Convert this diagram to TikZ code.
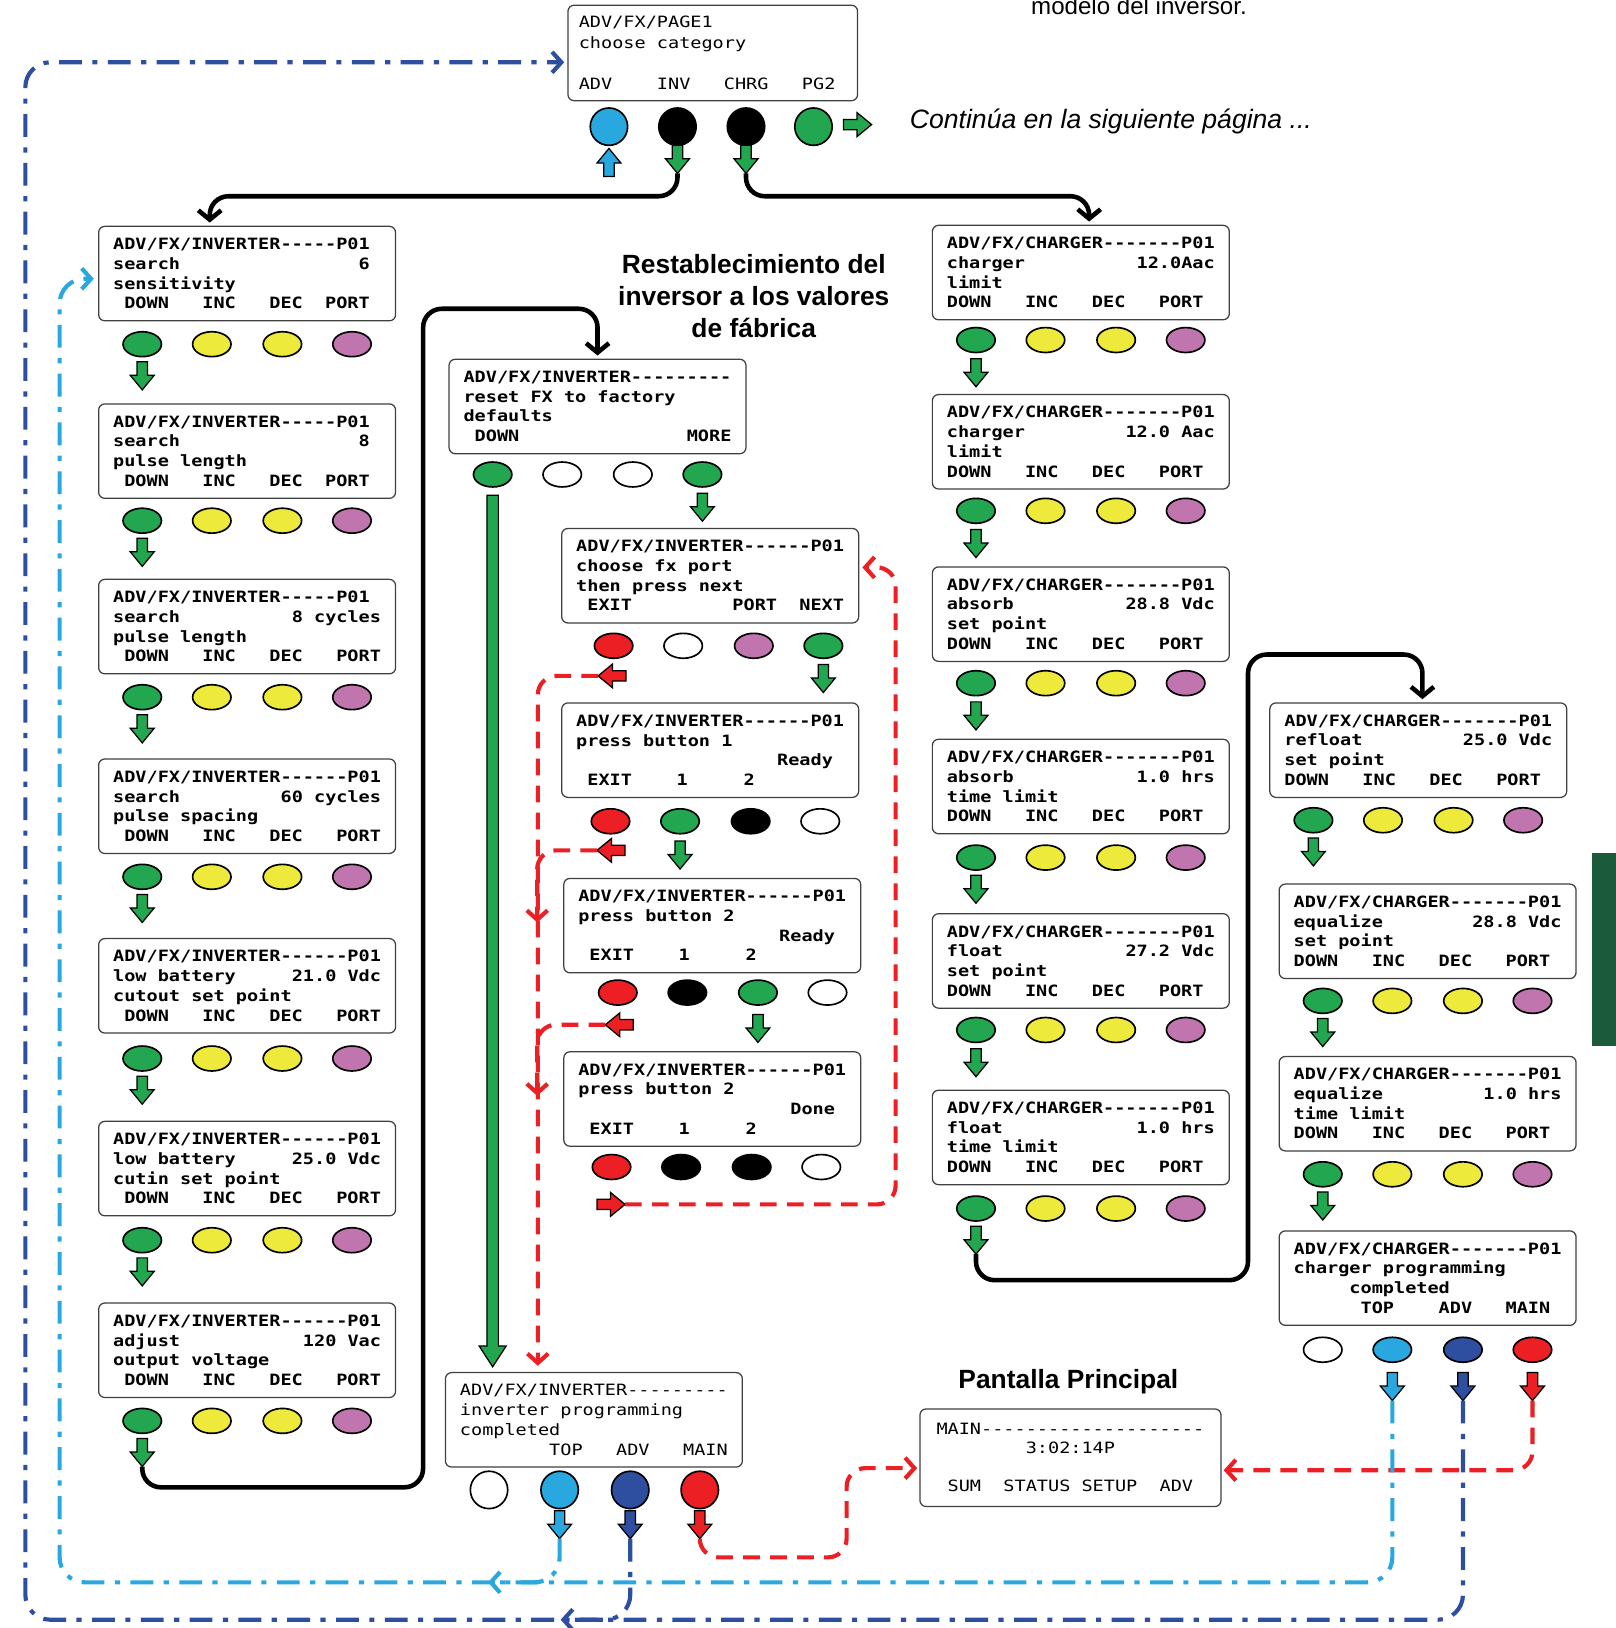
\documentclass[tikz,border=0pt]{standalone}
\usepackage{fontspec}
\setmainfont{Liberation Sans}
\newfontfamily\lcd[FakeStretch=1.19]{DejaVu Sans Mono}
\usetikzlibrary{shapes.geometric,arrows.meta,calc}
\definecolor{grn}{RGB}{35,166,80}
\definecolor{yel}{RGB}{238,234,60}
\definecolor{pnk}{RGB}{193,117,174}
\definecolor{lblue}{RGB}{41,168,224}
\definecolor{dblue}{RGB}{46,78,160}
\definecolor{rd}{RGB}{236,32,36}
\definecolor{sidegreen}{RGB}{28,90,60}
\newcommand\dashes[1]{\foreach\n in {1,...,#1}{-}}
\newcommand\fixsp{\spaceskip=5.373pt\relax\xspaceskip=5.373pt\relax}
\newcommand\keyrow[6]{%
  \node[btn=#3] (#1-1) at ($(#1)+(#2)+(-101,0)$) {};
  \node[btn=#4] (#1-2) at ($(#1)+(#2)+(-34,0)$) {};
  \node[btn=#5] (#1-3) at ($(#1)+(#2)+(34,0)$) {};
  \node[btn=#6] (#1-4) at ($(#1)+(#2)+(101,0)$) {};}
\tikzset{
  screen/.style={draw=black!75, line width=0.6pt, rounded corners=3pt, fill=white,
    minimum width=143pt, minimum height=45.5pt, text width=129pt, align=left,
    inner xsep=7pt, inner ysep=0pt, font=\lcd\bfseries\fontsize{7.5}{9.5}\selectfont,
    execute at begin node=\fixsp},
  thinscreen/.style={screen, font=\lcd\fontsize{7.5}{9.5}\selectfont},
  btn/.style={ellipse, draw, line width=0.8pt, fill=#1, minimum width=18.5pt,
    minimum height=12pt, inner sep=0pt},
  rbtn/.style={circle, draw, line width=0.8pt, fill=#1, minimum size=18pt, inner sep=0pt},
  fat/.pic={\path[pic actions] (-5,0) -- (5,0) -- (5,13) -- (11.5,13) -- (0,27)
    -- (-11.5,13) -- (-5,13) -- cycle; \coordinate (-tip) at (0,27);},
  fatarr/.style={draw=black, line width=0.6pt, fill=#1},
  flow/.style={line width=2.2pt, rounded corners=9pt, -{Straight Barb[length=4.5pt,width=11pt]}},
  redflow/.style={draw=rd, line width=2pt, dash pattern=on 8pt off 5pt, rounded corners=9pt,
    -{Straight Barb[length=4.5pt,width=10pt]}},
  lbflow/.style={draw=lblue, line width=2pt, dash pattern=on 11pt off 5pt on 2.5pt off 5pt,
    rounded corners=12pt, -{Straight Barb[length=4.5pt,width=10pt]}},
  dbflow/.style={lbflow, draw=dblue},
  head/.style={font=\bfseries\fontsize{12.7}{15.5}\selectfont, align=center},
}
\begin{document}
\begin{tikzpicture}[x=0.5pt,y=-0.5pt]
\useasboundingbox (0,0) rectangle (1556,1568);
\fill[sidegreen] (1533,822) rectangle (1556,1007);

\node[font=\fontsize{11.6}{14}\selectfont, anchor=base] (modelo) at (1097,14) {modelo del inversor.};
\node[font=\itshape\fontsize{12.8}{15}\selectfont, anchor=base west, inner sep=0pt] (cont) at (876,124) {Continúa en la siguiente página ...};
\node[head] (rtitle) at (726,285) {Restablecimiento del\\inversor a los valores\\de fábrica};
\node[head] (ptitle) at (1029,1331) {Pantalla Principal};

\node[thinscreen, minimum width=139.5pt, minimum height=46pt, inner xsep=5.25pt,
  font=\lcd\fontsize{7.5}{10}\selectfont] (page1) at (686.5,51)
  {ADV/FX/PAGE1\\choose category\\~\\ADV~~~~INV~~~CHRG~~~PG2};
\node[rbtn=lblue] (pg-1) at ($(page1)+(-100,71)$) {};
\node[rbtn=black] (pg-2) at ($(page1)+(-34,71)$) {};
\node[rbtn=black] (pg-3) at ($(page1)+(32,71)$) {};
\node[rbtn=grn] (pg-4) at ($(page1)+(97,71)$) {};
\pic[fatarr=lblue, rotate=180] (padv) at ($(pg-1)+(0,48)$) {fat};
\pic[fatarr=grn] (pinv) at ($(pg-2)+(0,18)$) {fat};
\pic[fatarr=grn] (pchg) at ($(pg-3)+(0,18)$) {fat};
\pic[fatarr=grn, rotate=90] (ppg2) at ($(pg-4)+(29,-2)$) {fat};

\node[screen] (inv1) at (238,263.5) {ADV/FX/INVERTER\dashes{5}P01\\search\hfill 6\phantom{0}\\sensitivity\\~DOWN~~~INC~~~DEC~~PORT};
\keyrow{inv1}{0,68}{grn}{yel}{yel}{pnk}
\pic[fatarr=grn] (i1d) at ($(inv1-1)+(0,17)$) {fat};
\node[screen] (inv2) at (238,434.5) {ADV/FX/INVERTER\dashes{5}P01\\search\hfill 8\phantom{0}\\pulse length\\~DOWN~~~INC~~~DEC~~PORT};
\keyrow{inv2}{0,67}{grn}{yel}{yel}{pnk}
\pic[fatarr=grn] (i2d) at ($(inv2-1)+(0,17)$) {fat};
\node[screen] (inv3) at (238,603.5) {ADV/FX/INVERTER\dashes{5}P01\\search\hfill 8 cycles\\pulse length\\~DOWN~~~INC~~~DEC~~~PORT};
\keyrow{inv3}{0,68}{grn}{yel}{yel}{pnk}
\pic[fatarr=grn] (i3d) at ($(inv3-1)+(0,17)$) {fat};
\node[screen] (inv4) at (238,776.5) {ADV/FX/INVERTER\dashes{6}P01\\search\hfill 60 cycles\\pulse spacing\\~DOWN~~~INC~~~DEC~~~PORT};
\keyrow{inv4}{0,68}{grn}{yel}{yel}{pnk}
\pic[fatarr=grn] (i4d) at ($(inv4-1)+(0,17)$) {fat};
\node[screen] (inv5) at (238,949.5) {ADV/FX/INVERTER\dashes{6}P01\\low battery\hfill 21.0 Vdc\\cutout set point\\~DOWN~~~INC~~~DEC~~~PORT};
\keyrow{inv5}{0,70}{grn}{yel}{yel}{pnk}
\pic[fatarr=grn] (i5d) at ($(inv5-1)+(0,17)$) {fat};
\node[screen] (inv6) at (238,1125.5) {ADV/FX/INVERTER\dashes{6}P01\\low battery\hfill 25.0 Vdc\\cutin set point\\~DOWN~~~INC~~~DEC~~~PORT};
\keyrow{inv6}{0,69}{grn}{yel}{yel}{pnk}
\pic[fatarr=grn] (i6d) at ($(inv6-1)+(0,17)$) {fat};
\node[screen] (inv7) at (238,1300.5) {ADV/FX/INVERTER\dashes{6}P01\\adjust\hfill 120 Vac\\output voltage\\~DOWN~~~INC~~~DEC~~~PORT};
\keyrow{inv7}{0,68}{grn}{yel}{yel}{pnk}
\pic[fatarr=grn] (i7d) at ($(inv7-1)+(0,17)$) {fat};

\node[screen] (chg1) at (1041,262.5) {ADV/FX/CHARGER\dashes{7}P01\\charger\hfill 12.0Aac\\limit\\DOWN~~~INC~~~DEC~~~PORT};
\keyrow{chg1}{0,65}{grn}{yel}{yel}{pnk}
\pic[fatarr=grn] (c1d) at ($(chg1-1)+(0,18)$) {fat};
\node[screen] (chg2) at (1041,425.5) {ADV/FX/CHARGER\dashes{7}P01\\charger\hfill 12.0 Aac\\limit\\DOWN~~~INC~~~DEC~~~PORT};
\keyrow{chg2}{0,66.5}{grn}{yel}{yel}{pnk}
\pic[fatarr=grn] (c2d) at ($(chg2-1)+(0,18)$) {fat};
\node[screen] (chg3) at (1041,591.5) {ADV/FX/CHARGER\dashes{7}P01\\absorb\hfill 28.8 Vdc\\set point\\DOWN~~~INC~~~DEC~~~PORT};
\keyrow{chg3}{0,66.5}{grn}{yel}{yel}{pnk}
\pic[fatarr=grn] (c3d) at ($(chg3-1)+(0,18)$) {fat};
\node[screen] (chg4) at (1041,757.5) {ADV/FX/CHARGER\dashes{7}P01\\absorb\hfill 1.0 hrs\\time limit\\DOWN~~~INC~~~DEC~~~PORT};
\keyrow{chg4}{0,68.5}{grn}{yel}{yel}{pnk}
\pic[fatarr=grn] (c4d) at ($(chg4-1)+(0,17)$) {fat};
\node[screen] (chg5) at (1041,925.5) {ADV/FX/CHARGER\dashes{7}P01\\float\hfill 27.2 Vdc\\set point\\DOWN~~~INC~~~DEC~~~PORT};
\keyrow{chg5}{0,66.5}{grn}{yel}{yel}{pnk}
\pic[fatarr=grn] (c5d) at ($(chg5-1)+(0,18)$) {fat};
\node[screen] (chg6) at (1041,1095.5) {ADV/FX/CHARGER\dashes{7}P01\\float\hfill 1.0 hrs\\time limit\\DOWN~~~INC~~~DEC~~~PORT};
\keyrow{chg6}{0,68.5}{grn}{yel}{yel}{pnk}
\pic[fatarr=grn] (c6d) at ($(chg6-1)+(0,17)$) {fat};

\node[screen] (rf) at (1366,722.5) {ADV/FX/CHARGER\dashes{7}P01\\refloat\hfill 25.0 Vdc\\set point\\DOWN~~~INC~~~DEC~~~PORT};
\keyrow{rf}{0,67.5}{grn}{yel}{yel}{pnk}
\pic[fatarr=grn] (rfd) at ($(rf-1)+(0,17)$) {fat};
\node[screen] (eq1) at (1375,897) {ADV/FX/CHARGER\dashes{7}P01\\equalize\hfill 28.8 Vdc\\set point\\DOWN~~~INC~~~DEC~~~PORT};
\keyrow{eq1}{0,67}{grn}{yel}{yel}{pnk}
\pic[fatarr=grn] (e1d) at ($(eq1-1)+(0,17)$) {fat};
\node[screen] (eq2) at (1375,1063) {ADV/FX/CHARGER\dashes{7}P01\\equalize\hfill 1.0 hrs\\time limit\\DOWN~~~INC~~~DEC~~~PORT};
\keyrow{eq2}{0,68}{grn}{yel}{yel}{pnk}
\pic[fatarr=grn] (e2d) at ($(eq2-1)+(0,17)$) {fat};
\node[screen] (cdone) at (1375,1231) {ADV/FX/CHARGER\dashes{7}P01\\charger programming\\~~~~~completed\\~~~~~~TOP~~~~ADV~~~MAIN};
\keyrow{cdone}{0,69}{white}{lblue}{dblue}{rd}
\pic[fatarr=lblue] (r4b) at ($(cdone-2)+(0,22)$) {fat};
\pic[fatarr=dblue] (r4d) at ($(cdone-3)+(0,22)$) {fat};
\pic[fatarr=rd] (r4r) at ($(cdone-4)+(0,22)$) {fat};

\node[screen] (rst) at (575.5,391.5) {ADV/FX/INVERTER\dashes{9}\\reset FX to factory\\defaults\\~DOWN\hfill MORE};
\keyrow{rst}{0,65.5}{grn}{white}{white}{grn}
\pic[fatarr=grn] (r1d) at ($(rst-4)+(0,18)$) {fat};
\node[screen] (port) at (684,554.5) {ADV/FX/INVERTER\dashes{6}P01\\choose fx port\\then press next\\~EXIT~~~~~~~~~PORT~~NEXT};
\keyrow{port}{8,67.5}{rd}{white}{pnk}{grn}
\pic[fatarr=grn] (p2d) at ($(port-4)+(0,18)$) {fat};
\pic[fatarr=rd, rotate=-90] (p2x) at ($(port-1)+(12,29)$) {fat};
\node[screen] (pb1) at (684,722.5) {ADV/FX/INVERTER\dashes{6}P01\\press button 1\\\hfill Ready\phantom{0}\\~EXIT~~~~1~~~~~2};
\keyrow{pb1}{5,68.5}{rd}{grn}{black}{white}
\pic[fatarr=grn] (p3d) at ($(pb1-2)+(0,19)$) {fat};
\pic[fatarr=rd, rotate=-90] (p3x) at ($(pb1-1)+(14,28)$) {fat};
\node[screen] (pb2) at (686,891.5) {ADV/FX/INVERTER\dashes{6}P01\\press button 2\\\hfill Ready\phantom{0}\\~EXIT~~~~1~~~~~2};
\keyrow{pb2}{10,64.5}{rd}{black}{grn}{white}
\pic[fatarr=grn] (p4d) at ($(pb2-3)+(0,21)$) {fat};
\pic[fatarr=rd, rotate=-90] (p4x) at ($(pb2-1)+(15,31)$) {fat};
\node[screen] (pb3) at (686,1058.5) {ADV/FX/INVERTER\dashes{6}P01\\press button 2\\\hfill Done\phantom{0}\\~EXIT~~~~1~~~~~2};
\keyrow{pb3}{4,65.5}{rd}{black}{black}{white}
\pic[fatarr=rd, rotate=90] (p5x) at ($(pb3-1)+(-14,36)$) {fat};

\node[thinscreen] (idone) at (572,1367.5) {ADV/FX/INVERTER\dashes{9}\\inverter programming\\completed\\~~~~~~~~TOP~~~ADV~~~MAIN};
\node[rbtn=white] (id-1) at ($(idone)+(-101,67.5)$) {};
\node[rbtn=lblue] (id-2) at ($(idone)+(-33,67.5)$) {};
\node[rbtn=dblue] (id-3) at ($(idone)+(35,67.5)$) {};
\node[rbtn=rd] (id-4) at ($(idone)+(102,67.5)$) {};
\pic[fatarr=lblue] (d6b) at ($(id-2)+(0,20)$) {fat};
\pic[fatarr=dblue] (d6d) at ($(id-3)+(0,20)$) {fat};
\pic[fatarr=rd] (d6r) at ($(id-4)+(0,20)$) {fat};

\node[thinscreen, minimum width=145pt, minimum height=47pt, inner xsep=8pt,
  font=\lcd\fontsize{7.5}{9.2}\selectfont] (mainscr) at (1031,1404)
  {MAIN\dashes{20}\\~~~~~~~~3:02:14P\\~\\~SUM~~STATUS~SETUP~~ADV};

\coordinate (gtop) at ($(rst-1)+(0,20)$);
\coordinate (gtip) at ($(idone.north -| gtop)+(0,-5)$);
\draw[fatarr=grn] ($(gtop)+(-5.5,0)$) -- ($(gtop)+(5.5,0)$) -- ($(gtip)+(5.5,-20)$)
  -- ($(gtip)+(13,-20)$) -- (gtip) -- ($(gtip)+(-13,-20)$) -- ($(gtip)+(-5.5,-20)$) -- cycle;

\draw[flow] (pinv-tip) -- ++(0,22) -| ($(inv1.north)+(-36,-3)$);
\draw[flow] (pchg-tip) -- ++(0,22) -| ($(chg1.north)+(8,-3)$);
\draw[flow] (i7d-tip) -- ++(0,20) -| ($(rst.north)+(-168,-48)$) -| ($(rst.north)+(0,-3)$);
\draw[flow] (c6d-tip) -- ++(0,25) -| ($(rf.north)+(-164,-46)$) -| ($(rf.north)+(4,-3)$);

\draw[redflow] (p2x-tip) -| ($(idone.north)+(-54,-6)$);
\draw[redflow] (p3x-tip) -| ($(pb2.west)+(-25,-3)$);
\draw[redflow] (p4x-tip) -| ($(pb3.west)+(-25,-3)$);
\draw[redflow] (p5x-tip) -| ($(port.east)+(35,-8)$) -- ($(port.east)+(3,-8)$);
\draw[redflow] (d6r-tip) -- ++(0,18) -| ($(mainscr.west)+(-70,10)$) -- ($(mainscr.west)+(-2,10)$);
\draw[redflow] (r4r-tip) |- ($(mainscr.east)+(2,12)$);

\coordinate (lbj) at (470,1524);
\coordinate (dbj) at (540,1560);
\draw[lbflow] (r4b-tip) |- (lbj);
\draw[lbflow] (d6b-tip) |- ($(inv1.west |- lbj)+(-37,0)$) |- ($(inv1.west)+(-4,5)$);
\draw[dbflow] (r4d-tip) |- (dbj);
\draw[dbflow] (d6d-tip) |- ($(page1.west |- dbj)+(-522,0)$) |- ($(page1.west)+(-3,9)$);
\end{tikzpicture}
\end{document}
